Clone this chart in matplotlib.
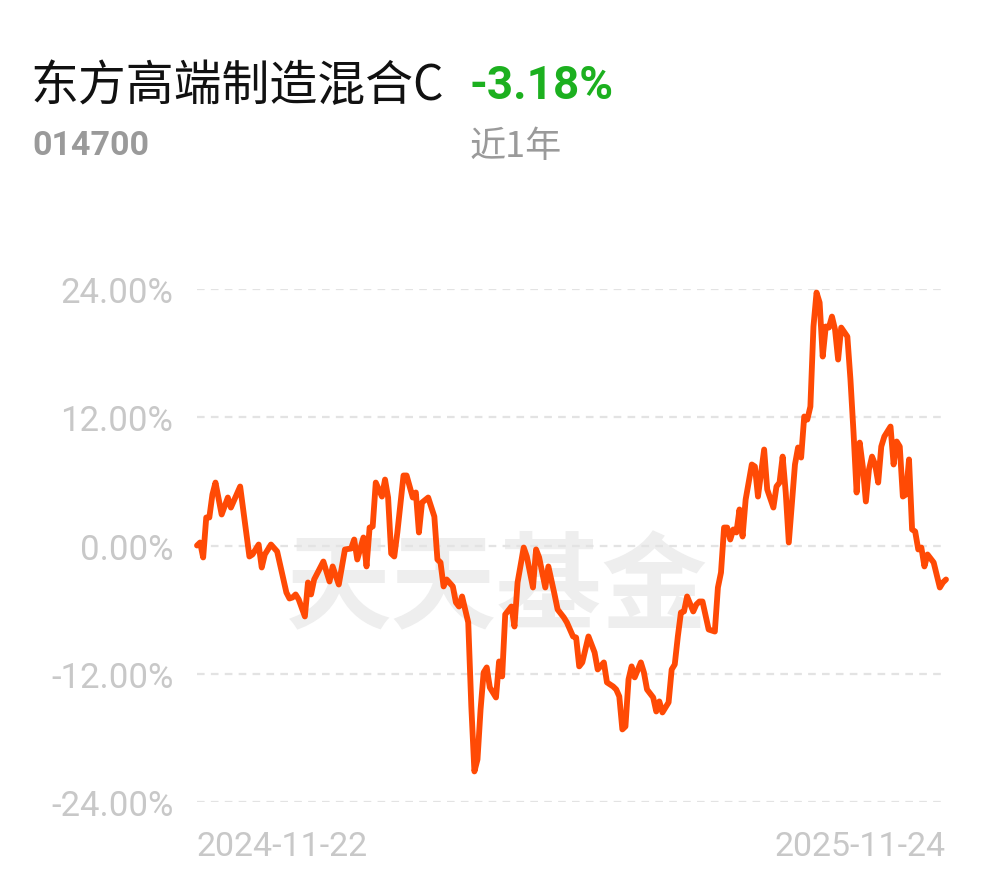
import matplotlib
matplotlib.use("Agg")
import matplotlib.pyplot as plt

plt.rcParams['font.family'] = ['Noto Sans CJK SC', 'DejaVu Sans']
plt.rcParams['lines.scale_dashes'] = False

# ---- data ----
title = "东方高端制造混合C"
fund_code = "014700"
period_return = "-3.18%"
period_label = "近1年"
x_labels = ["2024-11-22", "2025-11-24"]
y_ticks = [-24, -12, 0, 12, 24]
y_labels = ["-24.00%", "-12.00%", "0.00%", "12.00%", "24.00%"]

day_idx = [0, 1, 2, 3, 4, 5, 6, 8, 10, 11, 14, 17, 18, 20, 21, 22, 24, 26, 29, 30,
           31, 32, 33, 35, 36, 37, 38, 41, 43, 44, 46, 48, 50, 51, 52, 54, 55, 56, 57, 58,
           60, 61, 62, 63, 64, 65, 67, 68, 70, 71, 72, 73, 75, 77, 78, 79, 80, 81, 83, 84,
           85, 86, 88, 89, 90, 91, 92, 93, 94, 95, 97, 98, 99, 100, 102, 103, 104, 106, 107, 109,
           110, 111, 113, 114, 116, 117, 119, 120, 122, 123, 124, 125, 127, 129, 130, 132, 133, 135, 136, 137,
           138, 139, 140, 141, 142, 144, 145, 146, 148, 149, 150, 151, 153, 154, 155, 156, 157, 158, 159, 161,
           162, 163, 164, 166, 168, 169, 170, 171, 172, 173, 174, 175, 176, 177, 178, 180, 181, 182, 184, 185,
           187, 188, 189, 190, 191, 192, 194, 195, 196, 197, 198, 199, 200, 201, 202, 203, 204, 205, 206, 207,
           208, 209, 211, 212, 213, 214, 215, 216, 217, 218, 219, 220, 221, 222, 223, 225, 226, 227, 228, 229,
           230, 231, 232, 233, 234, 235, 236, 237, 239, 241, 242, 243]

ret_pct = [0.00, 0.28, -1.12, 2.62, 2.62, 4.77, 5.89, 2.90, 4.49, 3.55, 5.52, -1.03, -0.84, 0.09, -2.06, -0.84, 0.09, -0.56, -4.40, -4.96,
           -4.86, -4.58, -5.05, -6.64, -3.46, -4.58, -3.18, -1.50, -3.37, -1.96, -3.65, -0.37, -0.28, 0.56, -1.31, 0.75, -1.96, 1.68, 1.78, 5.89,
           4.58, 6.17, 4.49, -0.75, -1.03, 1.22, 6.55, 6.55, 4.49, 4.96, 1.22, 4.02, 4.49, 2.71, -1.31, -1.59, -3.83, -3.18, -3.83, -5.33,
           -5.71, -4.77, -7.20, -15.06, -21.14, -20.02, -15.34, -11.88, -11.41, -13.28, -14.22, -10.85, -12.25, -6.45, -5.71, -7.58, -3.46, -0.19, -1.03, -3.93,
           -0.37, -1.12, -3.93, -1.96, -4.58, -5.99, -6.73, -7.20, -8.51, -8.61, -11.31, -10.94, -8.51, -10.01, -11.60, -10.94, -12.81, -13.19, -13.47, -14.12,
           -17.21, -16.93, -12.53, -11.31, -12.34, -10.94, -11.88, -13.47, -14.22, -15.53, -14.59, -15.62, -14.68, -11.60, -11.13, -8.51, -6.27, -6.17, -4.77, -6.17,
           -5.52, -5.24, -5.24, -7.86, -8.05, -3.93, -2.53, 1.68, 1.68, 0.56, 1.50, 1.22, 3.37, 0.84, 4.30, 7.58, 7.39, 4.58, 8.98, 5.24,
           3.55, 5.52, 5.89, 8.32, 4.96, 0.28, 7.58, 9.17, 8.23, 12.07, 11.78, 13.00, 20.49, 23.67, 22.73, 17.68, 20.49, 20.39, 21.42, 20.21,
           17.40, 20.39, 19.55, 15.53, 10.57, 4.96, 9.63, 7.39, 4.12, 7.11, 8.32, 7.58, 5.89, 9.26, 10.20, 11.13, 7.58, 9.73, 9.26, 4.58,
           4.77, 8.05, 1.50, 1.31, -0.37, -0.19, -1.96, -0.84, -1.59, -3.93, -3.46, -3.18]

# ---- figure ----
W, H = 990, 878
fig = plt.figure(figsize=(W / 100, H / 100), dpi=100)
fig.patch.set_facecolor("white")

ax_left, ax_right, ax_top, ax_bottom = 197, 946, 290, 803
ax = fig.add_axes([ax_left / W, 1 - ax_bottom / H, (ax_right - ax_left) / W, (ax_bottom - ax_top) / H])
ax.set_facecolor("none")

ax.plot(day_idx, ret_pct, color="#ff4a05", lw=4.2, solid_joinstyle="round",
        solid_capstyle="round", zorder=3, clip_on=False)

for yt in y_ticks:
    ax.axhline(yt, color="#e3e3e3", lw=1.6, dashes=(5.5, 4.5), zorder=1)

ax.set_xlim(day_idx[0], day_idx[-1])
ax.set_ylim(-24, 24)
ax.set_yticks(y_ticks)
ax.set_yticklabels(y_labels, fontfamily="Roboto", fontsize=25, color="#c8c8c8")
ax.tick_params(axis="y", length=0, pad=17)
ax.set_xticks([day_idx[0], day_idx[-1]])
ax.set_xticklabels(x_labels, fontfamily="Roboto", fontsize=24.5, color="#c8c8c8")
ax.tick_params(axis="x", length=0, pad=20)
xl = ax.get_xticklabels()
xl[0].set_ha("left")
xl[1].set_ha("right")
for s in ax.spines.values():
    s.set_visible(False)

# watermark
ax.text(0.4005, 0.415, "天天基金", transform=ax.transAxes, ha="center", va="center",
        fontsize=76, fontweight="bold", color="#eeeeee", zorder=0.5)

# header texts
fig.text(31 / W, 1 - 86 / H, title, fontsize=34.5, color="#111111", ha="left", va="center")
fig.text(470 / W, 1 - 86 / H, period_return, fontsize=33, fontweight="bold", color="#1cb01f",
         ha="left", va="center", fontfamily="Roboto")
fig.text(32 / W, 1 - 146 / H, fund_code, fontsize=24.5, fontweight="bold", color="#9a9a9a",
         ha="left", va="center", fontfamily="Roboto")
fig.text(470 / W, 1 - 147 / H, period_label, fontsize=26, color="#9a9a9a", ha="left", va="center")

fig.savefig("out.png", dpi=100, facecolor="white")
